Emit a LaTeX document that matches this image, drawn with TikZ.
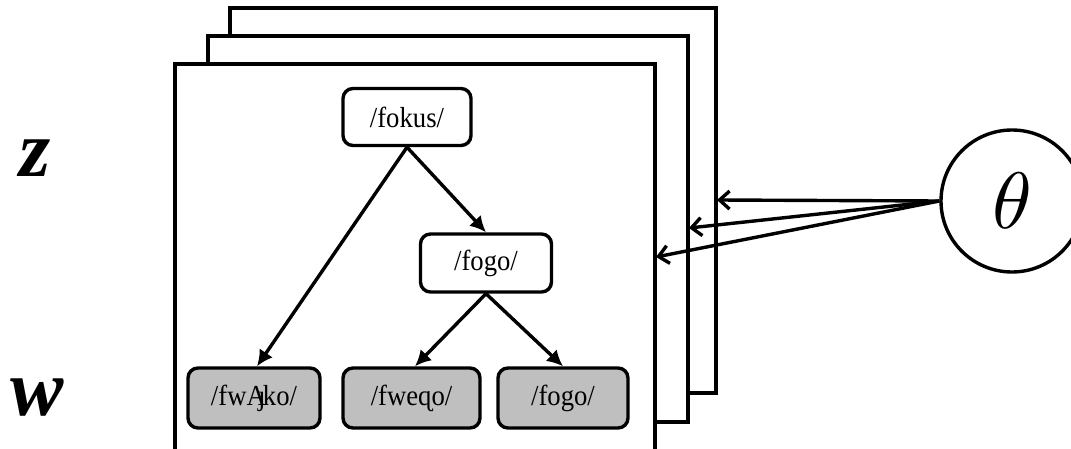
\documentclass[tikz,border=0pt]{standalone}
\usepackage{fontspec}
\setmainfont{Liberation Serif}
\newfontfamily\formfont[FakeStretch=0.92]{Liberation Serif}
\usetikzlibrary{arrows.meta}
\tikzset{
  frame/.style={draw=black, line width=1.9pt, fill=white},
  word/.style={draw=black, line width=1.7pt, rounded corners=5pt, fill=white,
    font=\formfont\fontsize{14.5}{16}\selectfont, inner sep=0pt},
  surface/.style={word, fill=black!25},
  tree/.style={line width=1.7pt, -{Latex[length=8pt,width=8pt]}},
  share/.style={line width=1.7pt, -{Straight Barb[length=5pt,width=9pt]}},
  tier/.style={font=\fontsize{40}{44}\selectfont\bfseries\itshape, inner sep=0pt}
}
\begin{document}
\begin{tikzpicture}[x=0.5pt, y=-0.5pt]
\useasboundingbox (0,0) rectangle (1071,449);
% stacked plates, back to front
\draw[frame] (230,8) rectangle (716,393);
\draw[frame] (208,36) rectangle (688,422);
\draw[frame] (175,449) -- (175,64) -- (655,64) -- (655,449);
\coordinate (p3) at (717,200);
\coordinate (p2) at (689,228);
\coordinate (p1) at (656,257);

% tier labels
\node[tier] (z) at (35,158) {z};
\node[tier] (w) at (37,398) {w};

% tree of forms
\node[word, minimum width=64pt, minimum height=28.5pt] (fokus) at (407,117) {/fokus/};
\node[word, minimum width=65.5pt, minimum height=29pt] (fogo) at (486,263) {/fogo/};
\node[surface, minimum width=66pt, minimum height=30pt] (s1) at (254,398)
  {/fwA\kern-0.1em\rlap{\kern-0.17em ȷ}ko/};
\node[surface, minimum width=68.5pt, minimum height=30pt] (s2) at (411.5,398) {/fweɋo/};
\node[surface, minimum width=65pt, minimum height=30pt] (s3) at (563,398) {/fogo/};

\draw[tree] (fokus.south) -- (s1.north -| 257,0);
\draw[tree] (fokus.south) -- (fogo.north);
\draw[tree] (fogo.south) -- (s2.north -| 415,0);
\draw[tree] (fogo.south) -- (s3.north);

% shared parameter
\node[draw=black, line width=1.7pt, circle, minimum size=71pt, inner sep=0pt]
  (th) at (1012,201) {\scalebox{4}{$\theta$}};
\draw[share] (th.west) -- (p3);
\draw[share] (th.west) -- (p2);
\draw[share] (th.west) -- (p1);
\end{tikzpicture}
\end{document}
